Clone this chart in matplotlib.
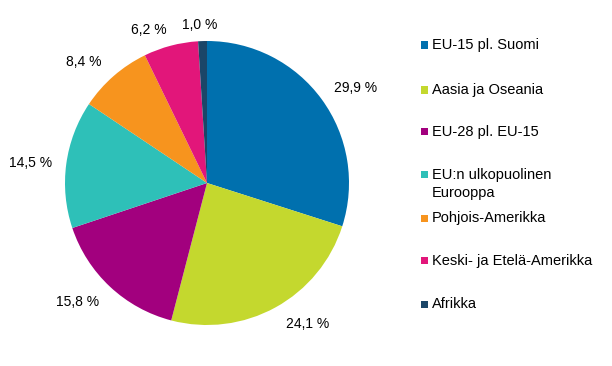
import matplotlib
matplotlib.use("Agg")
import matplotlib.pyplot as plt
from matplotlib.patches import Rectangle

plt.rcParams['font.family'] = ['Liberation Sans', 'DejaVu Sans']

categories = ["EU-15 pl. Suomi", "Aasia ja Oseania", "EU-28 pl. EU-15",
              "EU:n ulkopuolinen\nEurooppa", "Pohjois-Amerikka",
              "Keski- ja Etelä-Amerikka", "Afrikka"]
values = [29.9, 24.1, 15.8, 14.5, 8.4, 6.2, 1.0]
colors = ["#0070AE", "#C4D82E", "#A2007E", "#2EC0B8", "#F7941E", "#E2167A", "#1B4668"]

# label anchor positions in pie-radius units (relative to centre)
label_xy = [(1.049, 0.669), (0.708, -0.993), (-0.915, -0.838), (-1.246, 0.141),
            (-0.870, 0.852), (-0.412, 1.077), (-0.049, 1.113)]

W, H = 612, 366
cx, cy, R = 207, 183, 142

fig = plt.figure(figsize=(W / 100, H / 100), dpi=100)
ax = fig.add_axes([0, 0, 1, 1])
ax.pie(values, colors=colors, startangle=90, counterclock=False,
       radius=1.0, wedgeprops=dict(linewidth=0))
ax.set_xlim(-cx / R, (W - cx) / R)
ax.set_ylim(-(H - cy) / R, cy / R)
ax.set_aspect('auto')
ax.axis('off')

for v, (lx, ly) in zip(values, label_xy):
    ax.text(lx, ly, f"{v:.1f} %".replace('.', ','), ha='center', va='center',
            fontsize=10, color='#000000')

# legend (square y-centres in pixels from top)
leg_y = [45, 90, 131.7, 175, 218.3, 260.7, 304]
line_gap = 17.7
sq = 7
for name, col, y in zip(categories, colors, leg_y):
    fig.add_artist(Rectangle((421 / W, 1 - (y + sq / 2) / H), sq / W, sq / H,
                             transform=fig.transFigure, facecolor=col, edgecolor='none'))
    for i, line in enumerate(name.split('\n')):
        fig.text(432 / W, 1 - (y + i * line_gap) / H, line, ha='left', va='center',
                 fontsize=10.5, color='#000000')

fig.savefig("out.png", dpi=100)
